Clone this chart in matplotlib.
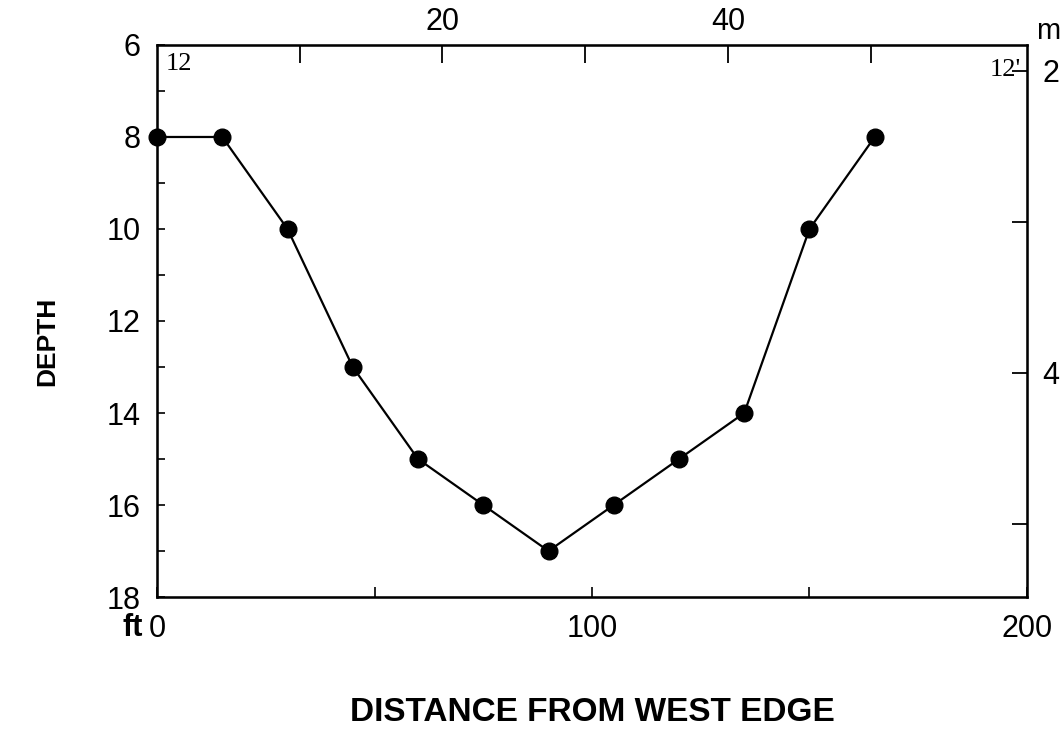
import matplotlib
import matplotlib.pyplot as plt

matplotlib.use('agg')
plt.rcParams['font.family'] = ['Liberation Sans', 'DejaVu Sans']

FT_PER_M = 3.2808

# distance from west edge (ft) and depth (ft)
distance = [0, 15, 30, 45, 60, 75, 90, 105, 120, 135, 150, 165]
depth = [8, 8, 10, 13, 15, 16, 17, 16, 15, 14, 10, 8]

x_ticks = [0, 50, 100, 150, 200]
x_labels = ['0', '', '100', '', '200']
y_ticks = [6, 7, 8, 9, 10, 11, 12, 13, 14, 15, 16, 17, 18]
y_labels = ['6', '', '8', '', '10', '', '12', '', '14', '', '16', '', '18']
top_ticks = [10, 20, 30, 40, 50]
top_labels = ['', '20', '', '40', '']
right_ticks = [2, 3, 4, 5]
right_labels = ['2', '', '4', '']

fig = plt.figure(figsize=(10.64, 7.56), dpi=100)
ax = fig.add_axes([0.1476, 0.2103, 0.8176, 0.7302])

ax.plot(distance, depth, color='black', lw=1.6, marker='o', ms=12,
        mfc='black', mec='black', clip_on=False, zorder=5)

ax.set_xlim(0, 200)
ax.set_ylim(18, 6)
ax.set_xticks(x_ticks)
ax.set_xticklabels(x_labels)
ax.set_yticks(y_ticks)
ax.set_yticklabels(y_labels)
ax.tick_params(axis='x', direction='in', length=7, width=1.2, pad=12, labelsize=22)
ax.tick_params(axis='y', direction='in', length=6, width=1.2, pad=12, labelsize=22)
for s in ax.spines.values():
    s.set_linewidth(1.8)

# metric scales on top and right
top = ax.twiny()
top.set_xlim(0, 200 / FT_PER_M)
top.set_xticks(top_ticks)
top.set_xticklabels(top_labels)
top.tick_params(axis='x', direction='in', length=13, width=1.3, pad=6, labelsize=22)

right = ax.twinx()
right.set_ylim(18 / FT_PER_M, 6 / FT_PER_M)
right.set_yticks(right_ticks)
right.set_yticklabels(right_labels)
right.tick_params(axis='y', direction='in', length=11, width=1.3, pad=11, labelsize=22)

ax.text(-0.04, -0.057, 'ft', transform=ax.transAxes, fontsize=22,
        fontweight='bold', ha='left', va='center')
right.text(1.01, 1.025, 'm', transform=ax.transAxes, fontsize=21,
           ha='left', va='center')
ax.text(0.01, 0.985, '12', transform=ax.transAxes, fontsize=19,
        family='Liberation Serif', ha='left', va='top')
ax.text(0.993, 0.975, "12'", transform=ax.transAxes, fontsize=19,
        family='Liberation Serif', ha='right', va='top')

fig.text(0.044, 0.548, 'DEPTH', rotation=90, fontsize=19,
         fontweight='bold', ha='center', va='center')
fig.text(0.557, 0.058, 'DISTANCE FROM WEST EDGE', fontsize=24,
         fontweight='bold', ha='center', va='center')

fig.savefig('out.png', dpi=100)
